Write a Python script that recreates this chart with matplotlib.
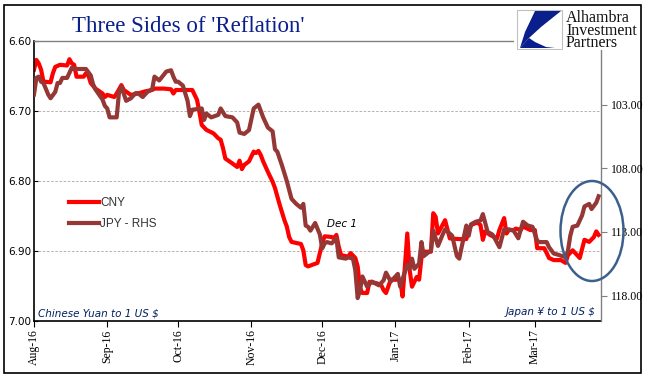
# Three Sides of 'Reflation' - CNY vs JPY chart

import numpy as np
import pandas as pd
import matplotlib
matplotlib.use('Agg')
import matplotlib.pyplot as plt
import matplotlib.dates as mdates
from matplotlib.patches import Ellipse, Rectangle, Polygon

# CNY per 1 USD (left axis, inverted)
cny_dates = ['2016-08-01', '2016-08-02', '2016-08-03', '2016-08-04', '2016-08-05', '2016-08-08',
             '2016-08-09', '2016-08-10', '2016-08-12', '2016-08-15', '2016-08-16', '2016-08-17',
             '2016-08-18', '2016-08-19', '2016-08-22', '2016-08-23', '2016-08-24', '2016-08-25',
             '2016-08-27', '2016-08-30', '2016-08-31', '2016-09-01', '2016-09-04', '2016-09-05',
             '2016-09-07', '2016-09-08', '2016-09-11', '2016-09-14', '2016-09-17', '2016-09-20',
             '2016-09-21', '2016-09-25', '2016-09-28', '2016-09-29', '2016-09-30', '2016-10-07',
             '2016-10-09', '2016-10-10', '2016-10-11', '2016-10-13', '2016-10-16', '2016-10-18',
             '2016-10-19', '2016-10-20', '2016-10-21', '2016-10-24', '2016-10-26', '2016-10-27',
             '2016-10-28', '2016-10-29', '2016-10-31', '2016-11-02', '2016-11-03', '2016-11-04',
             '2016-11-05', '2016-11-06', '2016-11-08', '2016-11-10', '2016-11-11', '2016-11-13',
             '2016-11-15', '2016-11-16', '2016-11-17', '2016-11-18', '2016-11-22', '2016-11-23',
             '2016-11-24', '2016-11-25', '2016-11-29', '2016-11-30', '2016-12-01', '2016-12-02',
             '2016-12-05', '2016-12-06', '2016-12-07', '2016-12-08', '2016-12-09', '2016-12-12',
             '2016-12-13', '2016-12-15', '2016-12-16', '2016-12-17', '2016-12-18', '2016-12-20',
             '2016-12-21', '2016-12-24', '2016-12-26', '2016-12-27', '2016-12-28', '2016-12-30',
             '2017-01-03', '2017-01-04', '2017-01-05', '2017-01-06', '2017-01-07', '2017-01-08',
             '2017-01-10', '2017-01-11', '2017-01-12', '2017-01-13', '2017-01-16', '2017-01-17',
             '2017-01-18', '2017-01-19', '2017-01-22', '2017-01-24', '2017-01-28', '2017-01-31',
             '2017-02-01', '2017-02-02', '2017-02-04', '2017-02-05', '2017-02-06', '2017-02-07',
             '2017-02-08', '2017-02-10', '2017-02-13', '2017-02-14', '2017-02-16', '2017-02-17',
             '2017-02-18', '2017-02-20', '2017-02-21', '2017-02-23', '2017-02-24', '2017-02-27',
             '2017-03-01', '2017-03-02', '2017-03-05', '2017-03-07', '2017-03-09', '2017-03-12',
             '2017-03-14', '2017-03-15', '2017-03-17', '2017-03-20', '2017-03-22', '2017-03-24',
             '2017-03-26', '2017-03-27', '2017-03-28']
cny_vals = [6.641, 6.627, 6.632, 6.641, 6.658, 6.659,
            6.646, 6.637, 6.634, 6.635, 6.626, 6.632,
            6.634, 6.651, 6.651, 6.646, 6.649, 6.660,
            6.668, 6.675, 6.680, 6.677, 6.680, 6.675,
            6.663, 6.670, 6.677, 6.675, 6.672, 6.670,
            6.668, 6.668, 6.669, 6.675, 6.670, 6.670,
            6.684, 6.701, 6.720, 6.727, 6.732, 6.739,
            6.741, 6.753, 6.768, 6.775, 6.780, 6.771,
            6.783, 6.777, 6.772, 6.758, 6.760, 6.757,
            6.763, 6.772, 6.787, 6.801, 6.810, 6.834,
            6.856, 6.865, 6.880, 6.887, 6.890, 6.899,
            6.920, 6.922, 6.917, 6.903, 6.889, 6.879,
            6.880, 6.882, 6.877, 6.894, 6.906, 6.908,
            6.903, 6.910, 6.922, 6.953, 6.960, 6.960,
            6.944, 6.946, 6.949, 6.956, 6.960, 6.941,
            6.941, 6.965, 6.922, 6.875, 6.927, 6.951,
            6.937, 6.941, 6.910, 6.901, 6.901, 6.846,
            6.851, 6.875, 6.856, 6.882, 6.883, 6.883,
            6.870, 6.863, 6.860, 6.860, 6.863, 6.884,
            6.872, 6.877, 6.882, 6.870, 6.853, 6.875,
            6.870, 6.870, 6.868, 6.870, 6.865, 6.870,
            6.870, 6.896, 6.896, 6.910, 6.913, 6.913,
            6.917, 6.906, 6.899, 6.910, 6.884, 6.887,
            6.880, 6.872, 6.877]

# JPY per 1 USD (right axis, inverted)
jpy_dates = ['2016-08-01', '2016-08-02', '2016-08-03', '2016-08-04', '2016-08-05', '2016-08-07',
             '2016-08-08', '2016-08-10', '2016-08-11', '2016-08-12', '2016-08-13', '2016-08-15',
             '2016-08-17', '2016-08-18', '2016-08-23', '2016-08-25', '2016-08-26', '2016-08-27',
             '2016-08-30', '2016-08-31', '2016-09-01', '2016-09-02', '2016-09-05', '2016-09-06',
             '2016-09-07', '2016-09-09', '2016-09-11', '2016-09-13', '2016-09-14', '2016-09-16',
             '2016-09-18', '2016-09-20', '2016-09-21', '2016-09-23', '2016-09-26', '2016-09-28',
             '2016-09-29', '2016-09-30', '2016-10-01', '2016-10-03', '2016-10-05', '2016-10-06',
             '2016-10-07', '2016-10-11', '2016-10-12', '2016-10-13', '2016-10-15', '2016-10-18',
             '2016-10-19', '2016-10-21', '2016-10-24', '2016-10-26', '2016-10-27', '2016-10-29',
             '2016-10-31', '2016-11-02', '2016-11-04', '2016-11-06', '2016-11-08', '2016-11-10',
             '2016-11-11', '2016-11-12', '2016-11-14', '2016-11-16', '2016-11-18', '2016-11-20',
             '2016-11-22', '2016-11-23', '2016-11-24', '2016-11-25', '2016-11-26', '2016-11-28',
             '2016-11-30', '2016-12-01', '2016-12-02', '2016-12-03', '2016-12-05', '2016-12-07',
             '2016-12-08', '2016-12-11', '2016-12-12', '2016-12-14', '2016-12-15', '2016-12-16',
             '2016-12-17', '2016-12-18', '2016-12-20', '2016-12-22', '2016-12-25', '2016-12-27',
             '2016-12-28', '2016-12-30', '2017-01-02', '2017-01-03', '2017-01-04', '2017-01-06',
             '2017-01-07', '2017-01-08', '2017-01-09', '2017-01-11', '2017-01-12', '2017-01-13',
             '2017-01-15', '2017-01-16', '2017-01-17', '2017-01-19', '2017-01-21', '2017-01-22',
             '2017-01-25', '2017-01-27', '2017-01-28', '2017-01-29', '2017-01-31', '2017-02-01',
             '2017-02-02', '2017-02-04', '2017-02-06', '2017-02-07', '2017-02-09', '2017-02-11',
             '2017-02-12', '2017-02-14', '2017-02-15', '2017-02-16', '2017-02-18', '2017-02-20',
             '2017-02-22', '2017-02-24', '2017-02-26', '2017-02-28', '2017-03-02', '2017-03-03',
             '2017-03-06', '2017-03-07', '2017-03-09', '2017-03-11', '2017-03-14', '2017-03-15',
             '2017-03-16', '2017-03-17', '2017-03-19', '2017-03-21', '2017-03-22', '2017-03-24',
             '2017-03-25', '2017-03-27', '2017-03-28']
jpy_vals = [102.2, 100.9, 100.8, 101.2, 101.3, 102.2,
            102.5, 102.0, 101.3, 101.3, 100.9, 100.9,
            100.1, 100.2, 100.2, 100.7, 101.4, 101.8,
            102.6, 103.1, 103.3, 104.0, 104.0, 102.0,
            101.6, 102.7, 102.5, 102.1, 102.1, 102.4,
            102.0, 101.8, 100.8, 101.1, 100.4, 100.3,
            100.8, 101.2, 101.2, 101.5, 102.7, 103.9,
            103.4, 103.3, 104.2, 103.7, 104.0, 103.8,
            103.3, 103.9, 104.0, 104.4, 105.2, 105.3,
            105.0, 103.3, 103.0, 104.0, 104.8, 105.1,
            106.5, 106.7, 107.8, 109.0, 110.4, 110.8,
            111.1, 110.8, 112.5, 112.6, 112.9, 112.3,
            113.2, 114.3, 113.9, 113.8, 113.9, 113.5,
            115.0, 115.1, 115.0, 115.1, 116.0, 118.2,
            117.6, 116.5, 117.3, 116.9, 117.2, 116.8,
            116.2, 116.9, 116.3, 117.3, 116.7, 115.6,
            115.9, 115.1, 115.9, 115.5, 113.8, 114.9,
            114.6, 114.5, 112.9, 114.1, 113.2, 112.8,
            113.3, 114.9, 115.1, 114.2, 112.5, 113.3,
            112.4, 112.2, 112.1, 111.6, 113.0, 113.2,
            113.5, 114.2, 113.5, 112.8, 112.8, 112.9,
            113.5, 112.2, 112.5, 112.6, 113.7, 113.8,
            113.8, 114.2, 114.7, 114.8, 115.0, 114.5,
            113.3, 112.6, 112.5, 111.7, 111.0, 110.8,
            111.2, 110.7, 110.2]

cny_ticks = [6.60, 6.70, 6.80, 6.90, 7.00]
jpy_ticks = [103, 108, 113, 118]

cny_x = pd.to_datetime(cny_dates)
jpy_x = pd.to_datetime(jpy_dates)

W, H = 652, 381
fig = plt.figure(figsize=(W / 100, H / 100), dpi=100)
fig.patch.set_facecolor('white')

# plot area in pixels: x 34..601, y 41..321
ax = fig.add_axes([34 / W, (H - 321) / H, 567 / W, 280 / H])
ax2 = ax.twinx()

red = '#FF0000'
brown = '#953735'

l1, = ax.plot(cny_x, cny_vals, color=red, lw=3, solid_joinstyle='round', label='CNY')
l2, = ax2.plot(jpy_x, jpy_vals, color=brown, lw=3, solid_joinstyle='round', label='JPY - RHS')

ax.set_ylim(7.00, 6.60)
ax2.set_ylim(120, 98)
ax.set_xlim(pd.Timestamp('2016-08-01'), pd.Timestamp('2017-03-29'))

# left axis
ax.set_yticks(cny_ticks)
ax.set_yticklabels(['%.2f' % v for v in cny_ticks], fontsize=7.5, family='DejaVu Sans')
ax.tick_params(axis='y', direction='in', length=3, pad=2, width=0.8)
for v in cny_ticks[1:-1]:
    ax.axhline(v, color='#A6A6A6', lw=0.6, ls=(0, (3, 2)), zorder=0)

# right axis
ax2.set_yticks(jpy_ticks)
ax2.set_yticklabels(['%.2f' % v for v in jpy_ticks], fontsize=8.5, family='Liberation Serif')
ax2.tick_params(axis='y', direction='out', length=4, pad=3, width=0.8, color='#808080')

# x axis
ax.xaxis.set_major_locator(mdates.MonthLocator())
ax.xaxis.set_major_formatter(mdates.DateFormatter('%b-%y'))
ax.tick_params(axis='x', direction='out', length=4, width=0.8, pad=2)
for lbl in ax.get_xticklabels():
    lbl.set_rotation(90)
    lbl.set_fontsize(8.5)
    lbl.set_family('Liberation Serif')

# spines
for s in ['left', 'bottom']:
    ax.spines[s].set_color('black')
    ax.spines[s].set_linewidth(1.2)
ax.spines['top'].set_color('#808080')
ax.spines['top'].set_linewidth(1.0)
ax.spines['right'].set_visible(False)
ax2.spines['left'].set_visible(False)
ax2.spines['bottom'].set_visible(False)
ax2.spines['top'].set_visible(False)
ax2.spines['right'].set_color('#808080')
ax2.spines['right'].set_linewidth(1.0)

# legend
leg = ax.legend(handles=[l1, l2], loc='upper left', frameon=False,
                bbox_to_anchor=(69 / W, (H - 197) / H), bbox_transform=fig.transFigure,
                borderpad=0, borderaxespad=0, handlelength=2.5, handletextpad=0.15,
                labelspacing=0.75, prop={'family': 'Liberation Sans', 'size': 8.5})
for t in leg.get_texts():
    t.set_color('#333333')

# annotations
ax.text(4 / 567, (321 - 316) / 280, 'Chinese Yuan to 1 US $', transform=ax.transAxes,
        fontsize=7.5, style='italic', color='#002060', family='DejaVu Sans', va='baseline', ha='left')
ax.text((596 - 34) / 567, (321 - 315) / 280, 'Japan ¥ to 1 US $', transform=ax.transAxes,
        fontsize=7.5, style='italic', color='#002060', family='DejaVu Sans', va='baseline', ha='right')
ax.text(pd.Timestamp('2016-12-03'), 6.866, 'Dec 1', fontsize=7.5, style='italic',
        color='black', family='DejaVu Sans', va='baseline', ha='left')

# circle around the latest moves
ell = Ellipse(((592 - 34) / 567, (321 - 231) / 280), 63 / 567, 100 / 280, transform=ax2.transAxes,
              fill=False, edgecolor='#3C5F8C', lw=1.8, clip_on=False, zorder=10)
ax2.add_patch(ell)

# title
fig.text(188 / W, (H - 32) / H, "Three Sides of 'Reflation'", fontsize=16.5, family='Liberation Serif',
         color='#0B1F8C', ha='center', va='baseline')

# logo block (covers end of top line / right spine)
lax = fig.add_axes([514 / W, (H - 50) / H, 127 / W, 44 / H])
lax.set_xlim(514, 641)
lax.set_ylim(50, 6)
lax.set_xticks([])
lax.set_yticks([])
for s in lax.spines.values():
    s.set_visible(False)
lax.add_patch(Rectangle((517, 10), 45, 39, facecolor='white', edgecolor='#C0C0C0', lw=0.8))
lax.add_patch(Polygon([(535, 11), (561, 11), (541, 27), (529, 38), (520, 48), (525, 32)],
                      closed=True, facecolor='#0A1E8C', edgecolor='none'))
lax.add_patch(Polygon([(520, 48), (529, 38), (535, 42), (546, 47), (555, 48)],
                      closed=True, facecolor='#0A1E8C', edgecolor='none'))
lax.text(566, 10.5, 'Alhambra\nInvestment\nPartners', fontsize=11.5, family='Liberation Serif',
         color='#111111', va='top', ha='left', linespacing=0.68)

# outer frame
fig.add_artist(Rectangle((4 / W, (H - 373) / H), 637 / W, 368 / H, transform=fig.transFigure,
                         fill=False, edgecolor='black', lw=1.2))

fig.savefig('out.png', dpi=100)
